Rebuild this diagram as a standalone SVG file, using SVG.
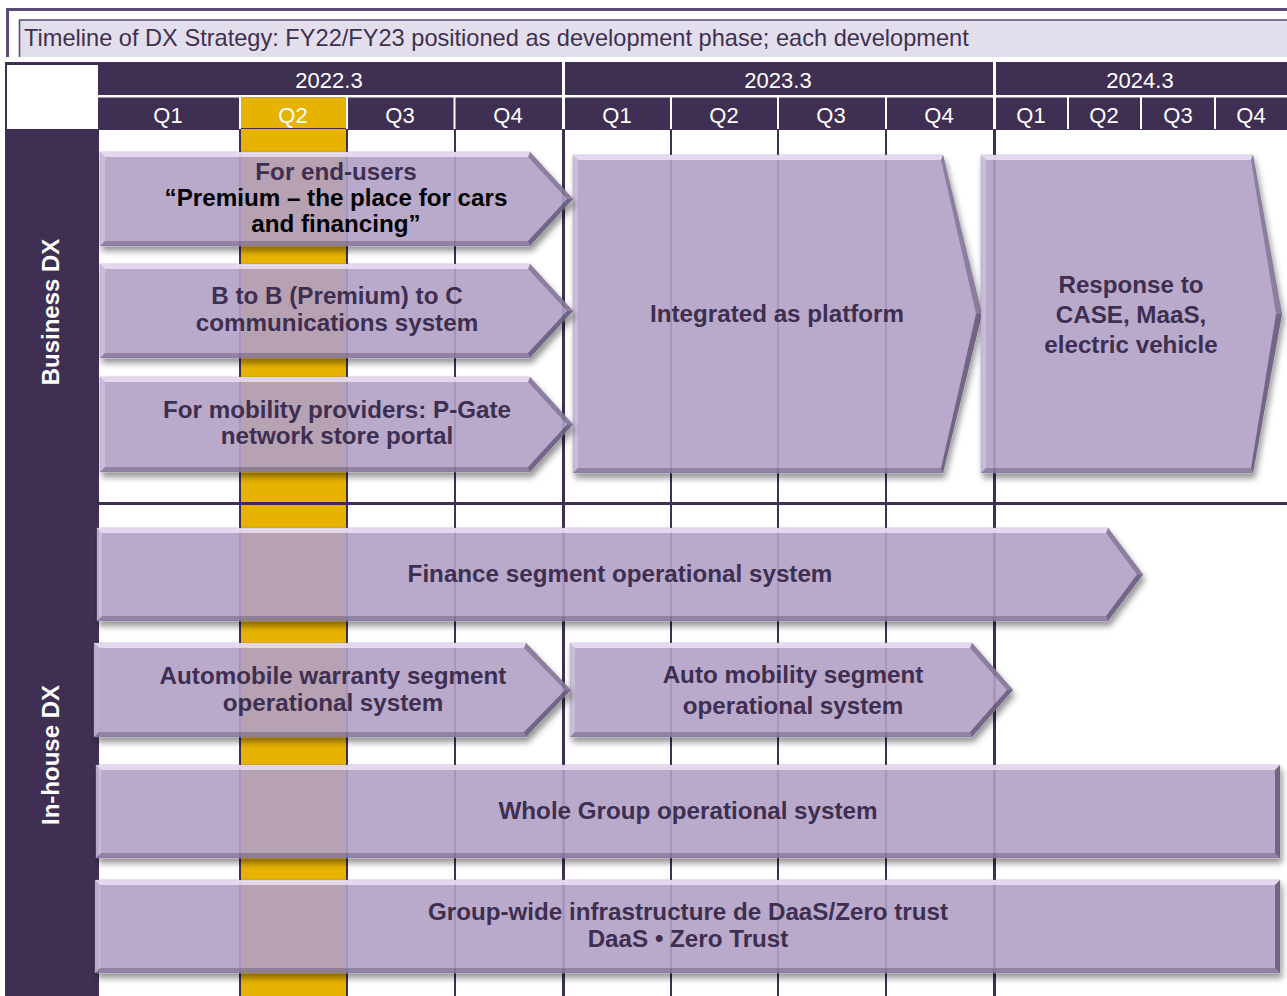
<svg xmlns="http://www.w3.org/2000/svg" width="1287" height="996" viewBox="0 0 1287 996">
  <style>
    .dark { fill: #3f2f52; }
    .wsep { fill: #ffffff; }
    .grid { stroke: #3f2f52; stroke-width: 2; }
    .grid-y { stroke: #3f2f52; stroke-width: 3; }
    .hdr { font-family: "Liberation Sans", Arial, sans-serif; font-size: 22px; fill: #ffffff; text-anchor: middle; }
    .side { font-family: "Liberation Sans", Arial, sans-serif; font-size: 24px; font-weight: bold; fill: #ffffff; text-anchor: middle; }
    .title { font-family: "Liberation Sans", Arial, sans-serif; font-size: 23.6px; fill: #3e3150; }
    .lbl { font-family: "Liberation Sans", Arial, sans-serif; font-size: 24.2px; font-weight: bold; fill: #3e2e50; text-anchor: middle; }
    .lbl-k { fill: #000000; }
    .body { fill: #b1a1c7; fill-opacity: 0.9; stroke: #8f80a6; stroke-opacity: 0.5; stroke-width: 0.8; }
    .bt { fill: #f6ecfd; opacity: 0.7; }
    .bl { fill: #ffffff; opacity: 0.22; }
    .bb { fill: #2e2140; opacity: 0.28; }
    .bu { fill: #2e2140; opacity: 0.32; }
    .bd { fill: #2e2140; opacity: 0.5; }
  </style>
  <defs>
    <filter id="drop" x="-5%" y="-10%" width="112%" height="135%">
      <feGaussianBlur in="SourceAlpha" stdDeviation="3"/>
      <feOffset dx="2" dy="5" result="blur"/>
      <feFlood flood-color="#000000" flood-opacity="0.45"/>
      <feComposite in2="blur" operator="in" result="shadow"/>
      <feComposite in="shadow" in2="SourceAlpha" operator="out" result="outer"/>
      <feMerge>
        <feMergeNode in="outer"/>
        <feMergeNode in="SourceGraphic"/>
      </feMerge>
    </filter>
  </defs>

  <rect width="1287" height="996" fill="#ffffff"/>

  <!-- Title banner -->
  <g id="title">
    <line x1="6" y1="9.5" x2="1287" y2="9.5" stroke="#5b4a78" stroke-width="3"/>
    <line x1="7.5" y1="8" x2="7.5" y2="57" stroke="#5b4a78" stroke-width="3"/>
    <rect x="19" y="19.5" width="1270" height="37.5" fill="#e3deeb"/>
    <polyline points="19.5,57 19.5,20 1287,20" fill="none" stroke="#5b4a78" stroke-width="1.6"/>
    <text class="title" x="24" y="46">Timeline of DX Strategy: FY22/FY23 positioned as development phase; each development</text>
  </g>

  <!-- Timeline header -->
  <g id="header">
    <rect class="dark" x="5" y="62" width="1282" height="68"/>
    <rect x="7" y="65" width="91" height="64" fill="#ffffff"/>
    <rect class="wsep" x="98" y="95" width="1189" height="2.5"/>
    <rect x="241" y="97.5" width="105" height="30.5" fill="#e8b300"/>
    <!-- year dividers -->
    <rect class="wsep" x="562" y="62" width="3" height="67"/>
    <rect class="wsep" x="993" y="62" width="3" height="67"/>
    <!-- quarter dividers -->
    <rect class="wsep" x="239" y="97" width="2" height="32"/>
    <rect class="wsep" x="346" y="97" width="2" height="32"/>
    <rect class="wsep" x="453.5" y="97" width="2" height="32"/>
    <rect class="wsep" x="670" y="97" width="2" height="32"/>
    <rect class="wsep" x="777" y="97" width="2" height="32"/>
    <rect class="wsep" x="885" y="97" width="2" height="32"/>
    <rect class="wsep" x="1067" y="97" width="2" height="32"/>
    <rect class="wsep" x="1140" y="97" width="2" height="32"/>
    <rect class="wsep" x="1214" y="97" width="2" height="32"/>
    <text class="hdr" x="329" y="88">2022.3</text>
    <text class="hdr" x="778" y="88">2023.3</text>
    <text class="hdr" x="1140" y="88">2024.3</text>
    <text class="hdr" x="168" y="123">Q1</text>
    <text class="hdr" x="293" y="123">Q2</text>
    <text class="hdr" x="400" y="123">Q3</text>
    <text class="hdr" x="508" y="123">Q4</text>
    <text class="hdr" x="617" y="123">Q1</text>
    <text class="hdr" x="724" y="123">Q2</text>
    <text class="hdr" x="831" y="123">Q3</text>
    <text class="hdr" x="939" y="123">Q4</text>
    <text class="hdr" x="1031" y="123">Q1</text>
    <text class="hdr" x="1104" y="123">Q2</text>
    <text class="hdr" x="1178" y="123">Q3</text>
    <text class="hdr" x="1251" y="123">Q4</text>
  </g>

  <!-- Body grid -->
  <g id="grid">
    <rect class="dark" x="5" y="129" width="94" height="867"/>
    <rect x="241" y="129" width="105" height="867" fill="#e8b300"/>
    <line class="grid" x1="240" y1="129" x2="240" y2="996"/>
    <line class="grid" x1="347" y1="129" x2="347" y2="996"/>
    <line class="grid" x1="455" y1="129" x2="455" y2="996"/>
    <line class="grid-y" x1="563.5" y1="129" x2="563.5" y2="996"/>
    <line class="grid" x1="671" y1="129" x2="671" y2="996"/>
    <line class="grid" x1="778" y1="129" x2="778" y2="996"/>
    <line class="grid" x1="886" y1="129" x2="886" y2="996"/>
    <line class="grid-y" x1="994.5" y1="129" x2="994.5" y2="996"/>
    <line class="grid-y" x1="99" y1="503.5" x2="1287" y2="503.5"/>
    <text class="side" x="59" y="312" transform="rotate(-90 59 312)">Business DX</text>
    <text class="side" x="59" y="755" transform="rotate(-90 59 755)">In-house DX</text>
  </g>

  <!-- Business DX -->
  <g id="node-platform">
    <g filter="url(#drop)">
      <polygon class="body" points="573,155 943,155 982,314 943,473 573,473"/>
      <polygon class="bt" points="573,155 943,155 941,160 578,160"/>
      <polygon class="bl" points="573,155 578,160 578,468 573,473"/>
      <polygon class="bb" points="573,473 578,468 941,468 943,473"/>
      <polygon class="bu" points="943,155 982,314 976,314 941,160"/>
      <polygon class="bd" points="982,314 943,473 941,468 976,314"/>
    </g>
    <text class="lbl" x="777" y="322">Integrated as platform</text>
  </g>

  <g id="node-case">
    <g filter="url(#drop)">
      <polygon class="body" points="981,155 1253,155 1282,314 1253,473 981,473"/>
      <polygon class="bt" points="981,155 1253,155 1251,160 986,160"/>
      <polygon class="bl" points="981,155 986,160 986,468 981,473"/>
      <polygon class="bb" points="981,473 986,468 1251,468 1253,473"/>
      <polygon class="bu" points="1253,155 1282,314 1276,314 1251,160"/>
      <polygon class="bd" points="1282,314 1253,473 1251,468 1276,314"/>
    </g>
    <text class="lbl" x="1131" y="293">Response to</text>
    <text class="lbl" x="1131" y="323">CASE, MaaS,</text>
    <text class="lbl" x="1131" y="353">electric vehicle</text>
  </g>

  <g id="node-endusers">
    <g filter="url(#drop)">
      <polygon class="body" points="100,152 530,152 573,199 530,246 100,246"/>
      <polygon class="bt" points="100,152 530,152 528,157 105,157"/>
      <polygon class="bl" points="100,152 105,157 105,241 100,246"/>
      <polygon class="bb" points="100,246 105,241 528,241 530,246"/>
      <polygon class="bu" points="530,152 573,199 567,199 528,157"/>
      <polygon class="bd" points="573,199 530,246 528,241 567,199"/>
    </g>
    <text class="lbl" x="336" y="180">For end-users</text>
    <text class="lbl lbl-k" x="336" y="206">“Premium – the place for cars</text>
    <text class="lbl lbl-k" x="336" y="232">and financing”</text>
  </g>

  <g id="node-b2b2c">
    <g filter="url(#drop)">
      <polygon class="body" points="100,264 530,264 573,311 530,358 100,358"/>
      <polygon class="bt" points="100,264 530,264 528,269 105,269"/>
      <polygon class="bl" points="100,264 105,269 105,353 100,358"/>
      <polygon class="bb" points="100,358 105,353 528,353 530,358"/>
      <polygon class="bu" points="530,264 573,311 567,311 528,269"/>
      <polygon class="bd" points="573,311 530,358 528,353 567,311"/>
    </g>
    <text class="lbl" x="337" y="304">B to B (Premium) to C</text>
    <text class="lbl" x="337" y="331">communications system</text>
  </g>

  <g id="node-pgate">
    <g filter="url(#drop)">
      <polygon class="body" points="100,377 530,377 573,424.5 530,472 100,472"/>
      <polygon class="bt" points="100,377 530,377 528,382 105,382"/>
      <polygon class="bl" points="100,377 105,382 105,467 100,472"/>
      <polygon class="bb" points="100,472 105,467 528,467 530,472"/>
      <polygon class="bu" points="530,377 573,424.5 567,424.5 528,382"/>
      <polygon class="bd" points="573,424.5 530,472 528,467 567,424.5"/>
    </g>
    <text class="lbl" x="337" y="418">For mobility providers: P-Gate</text>
    <text class="lbl" x="337" y="444">network store portal</text>
  </g>

  <!-- In-house DX -->
  <g id="node-finance">
    <g filter="url(#drop)">
      <polygon class="body" points="97,528 1108,528 1143,574.5 1108,621 97,621"/>
      <polygon class="bt" points="97,528 1108,528 1106,533 102,533"/>
      <polygon class="bl" points="97,528 102,533 102,616 97,621"/>
      <polygon class="bb" points="97,621 102,616 1106,616 1108,621"/>
      <polygon class="bu" points="1108,528 1143,574.5 1137,574.5 1106,533"/>
      <polygon class="bd" points="1143,574.5 1108,621 1106,616 1137,574.5"/>
    </g>
    <text class="lbl" x="620" y="582">Finance segment operational system</text>
  </g>

  <g id="node-automobility">
    <g filter="url(#drop)">
      <polygon class="body" points="570,643 972,643 1013,690 972,737 570,737"/>
      <polygon class="bt" points="570,643 972,643 970,648 575,648"/>
      <polygon class="bl" points="570,643 575,648 575,732 570,737"/>
      <polygon class="bb" points="570,737 575,732 970,732 972,737"/>
      <polygon class="bu" points="972,643 1013,690 1007,690 970,648"/>
      <polygon class="bd" points="1013,690 972,737 970,732 1007,690"/>
    </g>
    <text class="lbl" x="793" y="683">Auto mobility segment</text>
    <text class="lbl" x="793" y="714">operational system</text>
  </g>

  <g id="node-warranty">
    <g filter="url(#drop)">
      <polygon class="body" points="94,643 526,643 571,690 526,737 94,737"/>
      <polygon class="bt" points="94,643 526,643 524,648 99,648"/>
      <polygon class="bl" points="94,643 99,648 99,732 94,737"/>
      <polygon class="bb" points="94,737 99,732 524,732 526,737"/>
      <polygon class="bu" points="526,643 571,690 565,690 524,648"/>
      <polygon class="bd" points="571,690 526,737 524,732 565,690"/>
    </g>
    <text class="lbl" x="333" y="684">Automobile warranty segment</text>
    <text class="lbl" x="333" y="711">operational system</text>
  </g>

  <g id="node-wholegroup">
    <g filter="url(#drop)">
      <polygon class="body" points="96,765 1280,765 1280,858 96,858"/>
      <polygon class="bt" points="96,765 1280,765 1275,770 101,770"/>
      <polygon class="bl" points="96,765 101,770 101,853 96,858"/>
      <polygon class="bb" points="96,858 101,853 1275,853 1280,858"/>
      <polygon class="bd" points="1280,765 1280,858 1275,853 1275,770"/>
    </g>
    <text class="lbl" x="688" y="819">Whole Group operational system</text>
  </g>

  <g id="node-infra">
    <g filter="url(#drop)">
      <polygon class="body" points="95,880 1280,880 1280,973 95,973"/>
      <polygon class="bt" points="95,880 1280,880 1275,885 100,885"/>
      <polygon class="bl" points="95,880 100,885 100,968 95,973"/>
      <polygon class="bb" points="95,973 100,968 1275,968 1280,973"/>
      <polygon class="bd" points="1280,880 1280,973 1275,968 1275,885"/>
    </g>
    <text class="lbl" x="688" y="920">Group-wide infrastructure de DaaS/Zero trust</text>
    <text class="lbl" x="688" y="947">DaaS • Zero Trust</text>
  </g>

  <!-- no connectors: phases are laid out on the timeline grid -->
  <g id="connectors"/>
</svg>
